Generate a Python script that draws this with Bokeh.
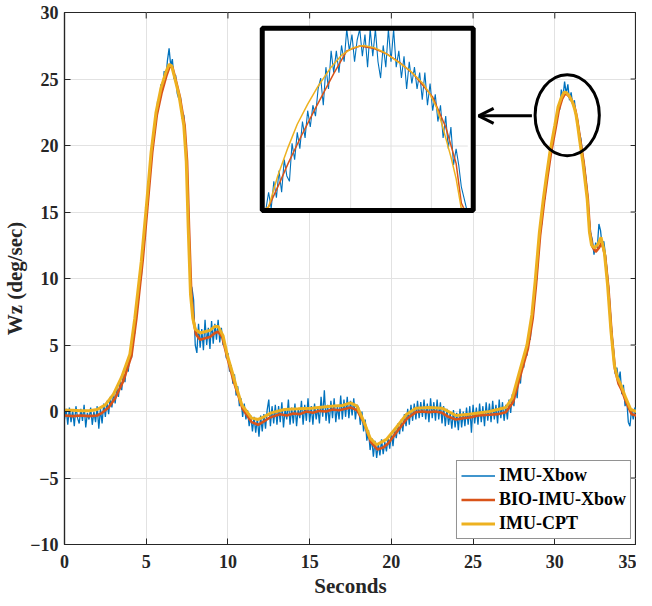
import numpy as np
from bokeh.plotting import figure
from bokeh.models import Range1d, FixedTicker, Legend, LegendItem, Arrow, OpenHead
from bokeh.embed import file_html
from bokeh.resources import INLINE

# ---------------- data ----------------
X_TICKS = [0, 5, 10, 15, 20, 25, 30, 35]
Y_TICKS = [-10, -5, 0, 5, 10, 15, 20, 25, 30]
SERIES_NAMES = ["IMU-Xbow", "BIO-IMU-Xbow", "IMU-CPT"]

# IMU-CPT (yellow, smooth)
T_CPT = [0.0, 0.5, 1.0, 1.5, 2.0, 2.5, 3.0, 3.5, 4.0, 4.3, 4.7, 5.0, 5.3, 5.6, 5.9, 6.2, 6.4, 6.55, 6.7, 7.0,
         7.3, 7.45, 7.57, 7.71, 7.85, 8.0, 8.3, 8.6, 8.9, 9.2, 9.4, 9.7, 9.95, 10.3, 10.5, 10.85, 11.45, 11.85,
         12.2, 12.65, 13.45, 14.3, 15.1, 16.3, 17.0, 17.5, 17.9, 18.3, 18.7, 19.1, 19.7, 20.3, 20.9, 21.5, 22.3,
         23.1, 23.95, 24.75, 26.0, 27.0, 27.4, 27.8, 28.3, 28.6, 28.8, 29.06, 29.3, 29.5, 29.7, 30.0, 30.2, 30.4,
         30.57, 30.73, 30.9, 31.1, 31.2, 31.3, 31.4, 31.52, 31.72, 31.98, 32.12, 32.25, 32.43, 32.65, 32.83,
         33.03, 33.23, 33.44, 33.64, 33.84, 34.04, 34.35, 34.65, 35.0]
Y_CPT = [0.1, 0.1, 0.05, 0.05, 0.15, 0.5, 1.3, 2.6, 4.3, 7.0, 11.3, 15.3, 19.5, 22.5, 24.3, 25.5, 26.1, 26.0, 25.3,
         23.8, 21.5, 18.8, 13.8, 8.8, 7.0, 6.2, 5.9, 6.0, 6.1, 6.4, 6.4, 5.7, 4.3, 2.8, 1.9, 0.5, -0.5, -0.6,
         -0.4, -0.1, 0.15, 0.2, 0.25, 0.4, 0.45, 0.65, 0.4, -0.7, -2.0, -2.5, -2.1, -1.2, -0.25, 0.25, 0.3,
         0.25, -0.3, -0.2, 0.0, 0.3, 1.0, 2.8, 5.0, 7.3, 9.8, 13.5, 16.0, 17.8, 19.5, 21.5, 22.9, 23.6, 24.0,
         23.96, 23.7, 23.2, 22.8, 22.3, 21.5, 20.4, 18.7, 16.0, 13.5, 12.5, 12.3, 12.6, 13.1, 12.0, 9.5, 6.0,
         3.5, 2.5, 2.0, 1.0, 0.15, 0.0]

# BIO-IMU-Xbow (orange, filtered)
T_BIO = [0.0, 0.5, 1.0, 1.5, 2.0, 2.3, 2.7, 3.1, 3.6, 4.1, 4.4, 4.78, 5.07, 5.37, 5.65, 5.95, 6.25, 6.45, 6.6,
         6.75, 7.05, 7.35, 7.5, 7.62, 7.76, 7.9, 8.05, 8.3, 8.6, 8.9, 9.2, 9.4, 9.65, 9.95, 10.3, 10.5, 10.9,
         11.45, 11.85, 12.2, 12.5, 12.8, 13.2, 13.6, 14.0, 14.4, 14.8, 15.2, 15.6, 16.0, 16.4, 16.8, 17.2, 17.5,
         17.9, 18.35, 18.75, 19.15, 19.5, 19.8, 20.35, 20.95, 21.5, 21.9, 22.3, 22.7, 23.1, 23.5, 23.95, 24.4,
         24.8, 25.3, 26.0, 26.5, 27.0, 27.45, 27.85, 28.35, 28.65, 28.85, 29.1, 29.35, 29.55, 29.75, 30.05,
         30.25, 30.45, 30.6, 30.75, 30.95, 31.15, 31.25, 31.35, 31.45, 31.57, 31.77, 32.02, 32.15, 32.3, 32.5,
         32.7, 32.88, 33.08, 33.28, 33.48, 33.68, 33.9, 34.1, 34.4, 34.7, 35.0]
Y_BIO = [-0.3, -0.35, -0.3, -0.35, -0.3, -0.1, 0.3, 1.0, 2.3, 4.2, 7.0, 11.3, 15.3, 19.5, 22.3, 24.0, 25.3, 26.0,
         25.9, 25.2, 23.7, 21.5, 18.8, 13.8, 8.8, 6.8, 5.8, 5.4, 5.5, 5.6, 5.9, 6.0, 5.6, 4.1, 2.5, 1.7, 0.2,
         -0.8, -1.0, -0.75, -0.5, -0.35, -0.2, -0.3, -0.15, -0.2, 0.0, -0.1, 0.05, 0.0, 0.15, 0.1, 0.2, 0.3,
         0.1, -0.9, -2.3, -2.85, -2.7, -2.4, -1.5, -0.55, -0.05, 0.0, -0.05, 0.0, -0.1, -0.4, -0.6, -0.5,
         -0.45, -0.3, -0.25, -0.2, -0.05, 0.7, 2.5, 4.7, 7.0, 9.5, 13.2, 15.8, 17.6, 19.3, 21.3, 22.7, 23.5,
         23.85, 23.85, 23.6, 23.1, 22.7, 22.1, 21.3, 20.3, 18.7, 16.0, 13.5, 12.4, 12.0, 12.3, 12.7, 11.7, 9.3,
         5.8, 3.2, 2.1, 1.6, 0.6, -0.2, -0.3]

# IMU-Xbow (blue, raw) sampled every 0.1 s from 0 to 35 s
XBOW_DT = 0.1
Y_XBOW = [
    -0.6, 0.2, -1.0, 0.3, -0.8, 0.1, -1.1, 0.4, -0.5, -0.9,
    0.2, -0.7, 0.5, -1.2, -0.1, -0.6, 0.3, -1.0, 0.0, -0.8,
    0.4, -1.3, 0.2, -0.9, 0.6, -0.4, 0.8, -0.2, 1.1, 0.3,
    1.4, 0.6, 1.8, 1.1, 2.3, 1.6, 2.9, 2.2, 3.6, 3.0,
    4.3, 4.0, 5.6, 5.9, 7.4, 8.0, 9.6, 10.1, 12.0, 12.9,
    14.6, 16.4, 17.6, 19.5, 20.0, 21.6, 21.9, 23.4, 23.2, 24.6,
    24.2, 25.6, 25.0, 26.4, 27.3, 26.0, 26.5, 25.0, 25.3, 23.9,
    23.5, 23.6, 22.0, 22.3, 20.5, 18.0, 13.5, 9.6, 9.3, 8.4,
    5.0, 4.4, 6.6, 4.8, 6.2, 4.6, 6.9, 5.0, 6.3, 4.7,
    6.8, 5.1, 6.6, 5.4, 6.9, 5.2, 6.3, 5.0, 5.2, 4.0,
    4.4, 3.0, 3.5, 2.1, 2.8, 1.2, 1.9, 0.4, 1.0, -0.4,
    0.6, -0.6, 0.1, -1.1, -0.3, -1.5, -0.4, -1.6, -0.5, -1.9,
    -0.3, -1.5, -0.2, -1.3, 0.1, 0.9, -1.1, 0.4, -0.9, 0.5,
    -1.0, 0.4, -0.8, 0.7, -1.2, 0.2, -0.6, 0.9, -1.0, 0.3,
    -0.9, 0.6, -1.1, 0.2, -0.5, 0.8, -1.0, 0.5, -0.7, 1.0,
    -0.8, 0.4, -1.0, 0.6, -0.6, 0.3, -0.9, 1.1, -0.4, 1.6,
    -0.7, 0.5, -0.9, 0.8, -0.5, 1.0, -0.8, 0.4, -0.6, 1.2,
    -0.6, 0.9, -0.4, 1.1, -0.5, 0.8, -0.3, 1.0, -0.6, 0.5,
    0.3, -1.0, 0.0, -1.5, -0.6, -2.2, -1.4, -2.9, -2.0, -3.4,
    -2.2, -3.5, -2.4, -3.3, -2.1, -3.2, -2.3, -3.0, -1.9, -2.8,
    -1.6, -2.6, -1.3, -2.0, -0.9, -1.7, -0.6, -1.5, -0.2, -1.1,
    0.2, -1.0, 0.5, -0.7, 0.6, -0.6, 0.8, -0.5, 0.7, -0.4,
    0.9, -0.6, 0.6, -0.8, 1.0, -0.5, 0.7, -0.7, 0.9, -0.6,
    0.7, -0.9, 0.4, -1.1, 0.2, -1.0, -0.1, -1.3, 0.1, -1.2,
    -0.1, -1.4, 0.2, -1.2, 0.0, -1.1, 0.3, -1.0, 0.4, -1.6,
    0.5, -0.9, 0.3, -1.0, 0.6, -0.8, 0.4, -1.1, 0.7, -0.7,
    0.6, -0.8, 0.8, -0.6, 0.5, -0.9, 0.9, -0.5, 0.7, -0.7,
    0.5, -0.6, 0.9, -0.1, 1.3, 0.4, 1.9, 1.0, 2.9, 2.1,
    3.7, 3.3, 4.6, 4.2, 5.5, 5.4, 7.0, 7.8, 9.3, 10.0,
    11.9, 13.5, 14.1, 15.8, 16.0, 17.6, 17.9, 19.3, 19.4, 20.8,
    21.4, 21.6, 22.9, 22.7, 24.2, 23.6, 24.8, 23.9, 24.6, 23.4,
    24.0, 23.0, 23.4, 22.2, 21.9, 21.0, 20.5, 19.4, 18.6, 17.6,
    16.4, 14.6, 13.4, 12.9, 11.8, 12.7, 12.3, 14.1, 13.6, 12.4,
    12.8, 11.8, 10.6, 9.3, 7.5, 5.8, 4.6, 2.8, 3.3, 2.3,
    3.0, 1.3, 2.0, 0.4, 0.9, -0.8, -1.1, 0.2, -0.6, 0.3,
    -0.2]

# ---- zoomed inset (window around the second peak) ----
INSET_WINDOW = (29.9, 31.45, 21.0, 24.3)   # t0, t1, y0, y1 shown in the inset
INSET_T_CPT = [29.90, 29.92, 29.99, 30.07, 30.14, 30.22, 30.30, 30.40, 30.48, 30.57, 30.65, 30.73, 30.81,
               30.90, 31.00, 31.11, 31.16, 31.21, 31.245, 31.28, 31.32, 31.36, 31.40, 31.42]
INSET_CPT = [20.9, 21.03, 21.6, 22.13, 22.55, 22.92, 23.25, 23.60, 23.82, 23.96, 24.0, 23.96, 23.87,
             23.72, 23.55, 23.29, 23.1, 22.86, 22.6, 22.3, 21.95, 21.55, 21.0, 20.7]
INSET_T_BIO = [29.90, 29.92, 30.0, 30.07, 30.17, 30.27, 30.42, 30.52, 30.62, 30.72, 30.83, 30.93, 31.03,
               31.18, 31.28, 31.36, 31.40, 31.42]
INSET_BIO = [20.9, 21.03, 21.45, 21.83, 22.33, 22.80, 23.48, 23.90, 23.99, 23.95, 23.84, 23.68, 23.48,
             23.05, 22.50, 21.83, 21.1, 20.7]
INSET_XBOW_T0 = 29.90
INSET_XBOW_DT = 0.02
INSET_XBOW = [
    20.8, 21.3, 21.0, 21.5, 21.2, 21.7, 21.3, 21.9, 21.6, 21.5,
    22.2, 21.9, 22.4, 22.1, 22.6, 22.3, 22.8, 22.5, 22.9, 22.7,
    23.2, 23.4, 22.9, 23.6, 23.2, 23.9, 23.5, 23.9, 23.5, 24.0,
    23.7, 24.4, 23.9, 24.2, 23.7, 24.1, 24.5, 23.8, 24.2, 23.6,
    24.4, 23.8, 24.5, 23.7, 23.4, 24.0, 23.6, 24.4, 23.7, 24.3,
    23.6, 23.9, 23.4, 23.8, 23.2, 23.7, 23.3, 23.6, 23.2, 23.5,
    23.0, 23.5, 22.9, 23.3, 22.8, 23.1, 22.6, 22.9, 22.3, 22.7,
    22.1, 22.5, 21.8, 22.1, 21.8, 21.4, 21.2, 20.9]
INSET_XGRID = [30.55, 30.86, 31.17]
INSET_YGRID = [22.15]

# ---------------- layout / style ----------------
BLUE, ORANGE, YELLOW = "#0072BD", "#D95319", "#EDB120"
AXC = "#262626"
GRID = "#e2e2e2"
FONT = "Liberation Serif"
INSET_AREA = (12.33, 24.68, 15.26, 28.75)     # where the inset window is drawn (main data units)
INSET_FRAME = (12.10, 25.01, 15.12, 28.81)    # thick black frame
ELLIPSE = dict(x=30.76, y=22.28, w=3.93, h=6.1)
ARROW = dict(x0=28.6, x1=25.34, y=22.23)
TICK_X_UNITS = 0.36   # inward tick length on the right edge (x data units)
TICK_Y_UNITS = 0.45   # inward tick length on the top edge (y data units)

p = figure(width=636, height=600, x_range=Range1d(0, 35), y_range=Range1d(-10, 30),
           output_backend="svg", toolbar_location=None,
           min_border_left=56, min_border_right=0, min_border_top=12, min_border_bottom=54,
           background_fill_color="white", border_fill_color="white",
           outline_line_color=AXC, outline_line_width=1.2)

for ax, ticks in ((p.xaxis[0], X_TICKS), (p.yaxis[0], Y_TICKS)):
    ax.ticker = FixedTicker(ticks=ticks)
    ax.major_tick_in = 6
    ax.major_tick_out = 0
    ax.minor_tick_in = 0
    ax.minor_tick_out = 0
    ax.axis_line_color = AXC
    ax.axis_line_width = 1.2
    ax.major_tick_line_color = AXC
    ax.major_label_text_font = FONT
    ax.major_label_text_font_style = "bold"
    ax.major_label_text_font_size = "18px"
    ax.major_label_text_color = AXC
    ax.axis_label_text_font = FONT
    ax.axis_label_text_font_style = "bold"
    ax.axis_label_text_font_size = "21px"
    ax.axis_label_text_color = AXC

p.xaxis.axis_label = "Seconds"
p.xaxis.major_label_standoff = 10
p.xaxis.axis_label_standoff = 3
p.yaxis.axis_label = "Wz (deg/sec)"
p.yaxis.major_label_standoff = 6
p.yaxis.axis_label_standoff = 0

p.xgrid.ticker = FixedTicker(ticks=X_TICKS)
p.ygrid.ticker = FixedTicker(ticks=Y_TICKS)
p.xgrid.grid_line_color = GRID
p.ygrid.grid_line_color = GRID

# inward ticks on the top and right edges (box style)
p.segment(x0=X_TICKS, x1=X_TICKS, y0=[30] * len(X_TICKS), y1=[30 - TICK_Y_UNITS] * len(X_TICKS),
          line_color=AXC, line_width=1)
p.segment(x0=[35] * len(Y_TICKS), x1=[35 - TICK_X_UNITS] * len(Y_TICKS), y0=Y_TICKS, y1=Y_TICKS,
          line_color=AXC, line_width=1)

# main curves
t_xbow = np.arange(len(Y_XBOW)) * XBOW_DT
r_xbow = p.line(t_xbow, Y_XBOW, line_color=BLUE, line_width=1.3)
r_bio = p.line(T_BIO, Y_BIO, line_color=ORANGE, line_width=2.6)
r_cpt = p.line(T_CPT, Y_CPT, line_color=YELLOW, line_width=3)

# inset
wt0, wt1, wy0, wy1 = INSET_WINDOW
ax0, ax1, ay0, ay1 = INSET_AREA


def to_x(t):
    t = np.asarray(t, dtype=float)
    return ax0 + (t - wt0) / (wt1 - wt0) * (ax1 - ax0)


def to_y(y):
    y = np.clip(np.asarray(y, dtype=float), wy0, wy1)
    return ay0 + (y - wy0) / (wy1 - wy0) * (ay1 - ay0)


def inset_line(t, y, **kw):
    t = np.asarray(t, dtype=float)
    y = np.asarray(y, dtype=float)
    m = (t >= wt0) & (t <= wt1)
    p.line(to_x(t[m]), to_y(y[m]), **kw)


fx0, fx1, fy0, fy1 = INSET_FRAME
p.quad(left=[fx0], right=[fx1], bottom=[fy0], top=[fy1], fill_color="white", line_color=None)
p.segment(x0=to_x(INSET_XGRID), x1=to_x(INSET_XGRID), y0=[ay0] * len(INSET_XGRID), y1=[ay1] * len(INSET_XGRID),
          line_color=GRID, line_width=1)
p.segment(x0=[ax0] * len(INSET_YGRID), x1=[ax1] * len(INSET_YGRID), y0=to_y(INSET_YGRID), y1=to_y(INSET_YGRID),
          line_color=GRID, line_width=1)
t_inset = INSET_XBOW_T0 + np.arange(len(INSET_XBOW)) * INSET_XBOW_DT
inset_line(t_inset, INSET_XBOW, line_color=BLUE, line_width=1.1)
inset_line(INSET_T_BIO, INSET_BIO, line_color=ORANGE, line_width=1.5)
inset_line(INSET_T_CPT, INSET_CPT, line_color=YELLOW, line_width=1.5)
p.quad(left=[fx0], right=[fx1], bottom=[fy0], top=[fy1], fill_color=None, line_color="black", line_width=5)

# ellipse + arrow
p.ellipse(x=[ELLIPSE["x"]], y=[ELLIPSE["y"]], width=[ELLIPSE["w"]], height=[ELLIPSE["h"]],
          fill_color=None, line_color="black", line_width=3)
p.add_layout(Arrow(end=OpenHead(size=15, line_width=3, line_color="black"),
                   x_start=ARROW["x0"], y_start=ARROW["y"], x_end=ARROW["x1"], y_end=ARROW["y"],
                   line_width=3, line_color="black"))

legend = Legend(items=[LegendItem(label=SERIES_NAMES[0], renderers=[r_xbow]),
                       LegendItem(label=SERIES_NAMES[1], renderers=[r_bio]),
                       LegendItem(label=SERIES_NAMES[2], renderers=[r_cpt])],
                location="bottom_right", margin=5, padding=4, spacing=3,
                glyph_width=34, glyph_height=21, label_height=21, label_standoff=4,
                label_text_font=FONT, label_text_font_style="bold", label_text_font_size="18px",
                label_text_color="black", border_line_color=AXC, border_line_width=1,
                background_fill_color="white", background_fill_alpha=1)
p.add_layout(legend)

open("out.html", "w").write(file_html(p, INLINE))
